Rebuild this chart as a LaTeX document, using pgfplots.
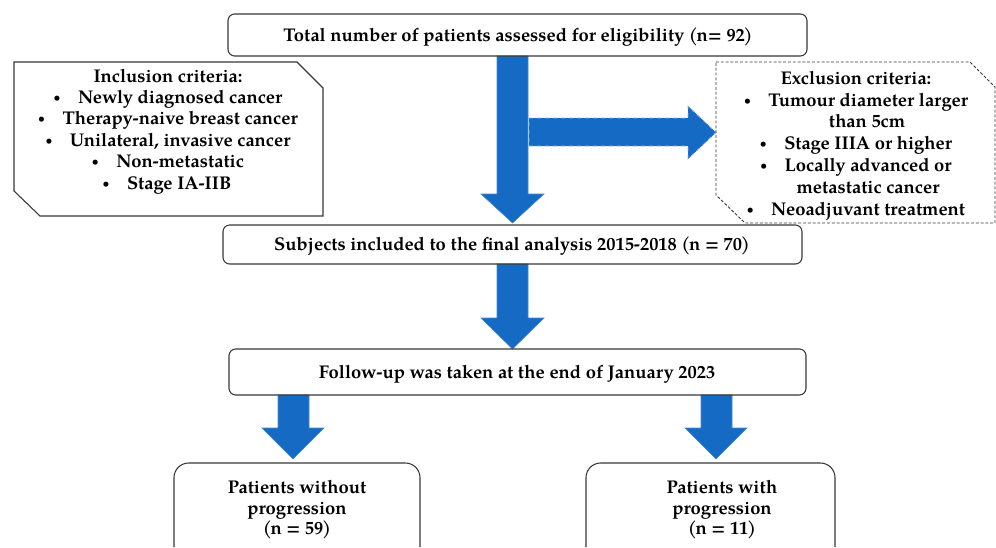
\documentclass[border=0pt]{standalone}
\usepackage{fontspec}
\setmainfont{texgyrepagella}[Extension=.otf,UprightFont=*-regular,BoldFont=*-bold,ItalicFont=*-italic,BoldItalicFont=*-bolditalic]
\usepackage{graphicx}
\usepackage{pgfplots}
\pgfplotsset{compat=1.18}
\definecolor{arrowblue}{RGB}{21,106,196}
\definecolor{boxline}{RGB}{55,55,55}
\newcommand{\bul}{\raisebox{0.18ex}{\scalebox{0.62}{•}}\hspace{0.95em}}
\newcommand{\lp}{(\kern-0.07em}
\newcommand{\rp}{\kern-0.07em)}
\tikzset{lbl/.style={anchor=base, font=\fontsize{13.8}{16}\selectfont\bfseries, inner sep=0pt, text=black}}
\begin{document}
\begin{tikzpicture}
\begin{axis}[scale only axis, width=747pt, height=410.25pt,
  xmin=0, xmax=996, ymin=0, ymax=547, y dir=reverse,
  axis lines=none, ticks=none, clip=false]
\path (axis cs:0,0) rectangle (axis cs:996,547);
% arrows
\addplot[forget plot, mark=none, fill=arrowblue, draw=arrowblue!80!white, line width=0.4pt]
  coordinates {(497,56) (528,56) (528,194) (544,194) (512.5,223) (481,194) (497,194)} -- cycle;
\addplot[forget plot, mark=none, fill=arrowblue, draw=arrowblue!45!white, dashed, line width=0.6pt]
  coordinates {(529,118) (688,118) (688,106) (716,132.5) (688,159) (688,146) (529,146)} -- cycle;
\addplot[forget plot, mark=none, fill=arrowblue, draw=arrowblue!80!white, line width=0.4pt]
  coordinates {(497,264) (528,264) (528,318) (544,318) (512.5,349) (481,318) (497,318)} -- cycle;
\addplot[forget plot, mark=none, fill=arrowblue, draw=arrowblue!80!white, line width=0.4pt]
  coordinates {(278,395) (309,395) (309,428) (324,428) (293,459) (262,428) (278,428)} -- cycle;
\addplot[forget plot, mark=none, fill=arrowblue, draw=arrowblue!80!white, line width=0.4pt]
  coordinates {(701,395) (732,395) (732,428) (747,428) (716,459) (685,428) (701,428)} -- cycle;
% boxes
\draw[boxline, line width=0.8pt, rounded corners=5pt] (axis cs:228,14) rectangle (axis cs:807,56);
\draw[boxline, line width=0.8pt, rounded corners=5pt] (axis cs:223,225) rectangle (axis cs:802,264);
\draw[boxline, line width=0.8pt, rounded corners=5pt] (axis cs:229,349) rectangle (axis cs:806,395);
\draw[boxline, line width=0.8pt, rounded corners=11pt] (axis cs:174,547) -- (axis cs:174,463) -- (axis cs:420,463) -- (axis cs:420,547);
\draw[boxline, line width=0.8pt, rounded corners=11pt] (axis cs:586,547) -- (axis cs:586,463) -- (axis cs:835,463) -- (axis cs:835,547);
\draw[boxline, line width=0.8pt] (axis cs:14,62) -- (axis cs:297,62) -- (axis cs:323,88) -- (axis cs:323,216) -- (axis cs:40,216) -- (axis cs:14,191) -- cycle;
\draw[boxline, line width=0.7pt, dash pattern=on 2.2pt off 1.4pt] (axis cs:716,62) -- (axis cs:970,62) -- (axis cs:995,87) -- (axis cs:995,223) -- (axis cs:745,223) -- (axis cs:716,195) -- cycle;
% texts
\node[lbl] at (axis cs:518,41.5) {Total number of patients assessed for eligibility \lp n= 92\rp};
\node[lbl] at (axis cs:168,82) {Inclusion criteria:};
\node[lbl] at (axis cs:168,103) {\bul Newly diagnosed cancer};
\node[lbl] at (axis cs:168,124.5) {\bul Therapy-naive breast cancer};
\node[lbl] at (axis cs:168,146) {\bul Unilateral, invasive cancer};
\node[lbl] at (axis cs:168,167.5) {\bul Non-metastatic};
\node[lbl] at (axis cs:167,189) {\bul Stage IA-IIB};
\node[lbl] at (axis cs:856,84) {Exclusion criteria:};
\node[lbl] at (axis cs:856,106) {\bul Tumour diameter larger};
\node[lbl] at (axis cs:867,127.5) {than 5cm};
\node[lbl] at (axis cs:856,149) {\bul Stage IIIA or higher};
\node[lbl] at (axis cs:856,171) {\bul Locally advanced or};
\node[lbl] at (axis cs:868,193) {metastatic cancer};
\node[lbl] at (axis cs:856,215) {\bul Neoadjuvant treatment};
\node[lbl] at (axis cs:512,250.5) {Subjects included to the final analysis 2015-2018 \lp n = 70\rp};
\node[lbl] at (axis cs:517,378.5) {Follow-up was taken at the end of January 2023};
\node[lbl] at (axis cs:297,493) {Patients without};
\node[lbl] at (axis cs:297,514) {progression};
\node[lbl] at (axis cs:297,534) {\lp n = 59\rp};
\node[lbl] at (axis cs:722,493) {Patients with};
\node[lbl] at (axis cs:722,514) {progression};
\node[lbl] at (axis cs:722,534) {\lp n = 11\rp};
\end{axis}
\end{tikzpicture}
\end{document}
